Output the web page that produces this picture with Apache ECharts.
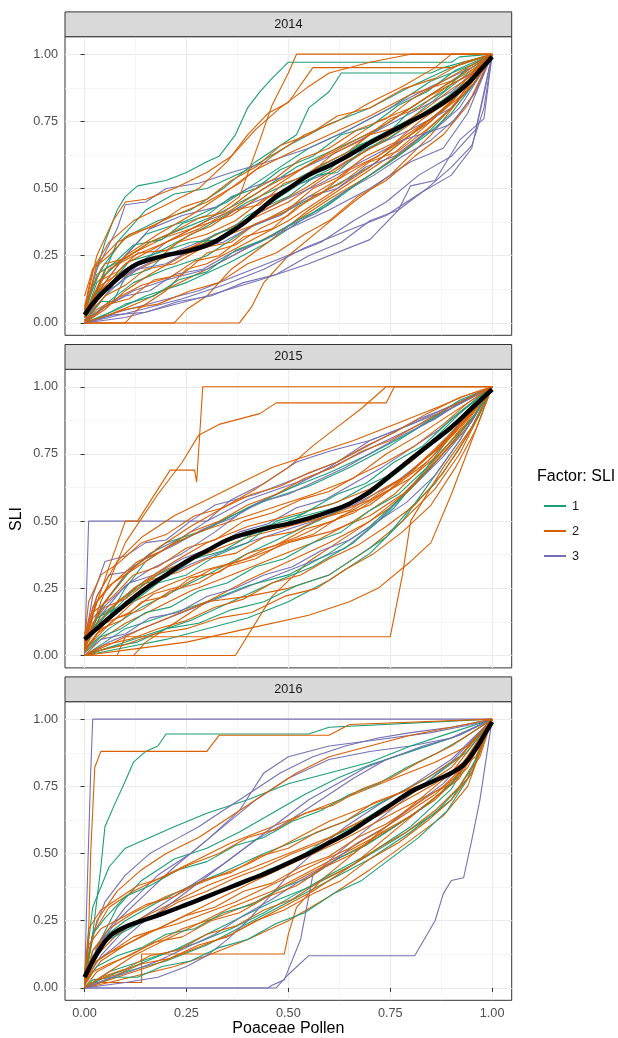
<!DOCTYPE html>
<html>
<head>
<meta charset="utf-8">
<script src="https://cdn.jsdelivr.net/npm/echarts@6/dist/echarts.min.js"></script>
<style>
  html, body { margin: 0; padding: 0; background: #fff; }
  #chart { width: 618px; height: 1038px; }
</style>
</head>
<body>
<div id="chart"></div>
<script>
var chart = echarts.init(document.getElementById('chart'));

// facets, factor levels and ticks
var years = ['2014', '2015', '2016'];
var factors = ['1', '2', '3'];
var factorColors = ['#1B9E77', '#D95F02', '#7570B3'];
var majorTicks = [0, 0.25, 0.5, 0.75, 1];
var minorTicks = [0.125, 0.375, 0.625, 0.875];

// ---- 2014 ----
var teal2014 = [
  [[0,0],[0.08,0.05],[0.15,0.1],[0.25,0.15],[0.35,0.22],[0.45,0.3],[0.55,0.4],[0.65,0.5],[0.75,0.6],[0.85,0.72],[0.95,0.88],[1,1]],
  [[0,0],[0.06,0.08],[0.12,0.15],[0.2,0.2],[0.3,0.25],[0.4,0.35],[0.5,0.42],[0.6,0.5],[0.7,0.58],[0.8,0.7],[0.9,0.82],[1,1]],
  [[0,0],[0.05,0.1],[0.1,0.2],[0.2,0.28],[0.3,0.36],[0.4,0.45],[0.5,0.52],[0.6,0.6],[0.7,0.68],[0.8,0.76],[0.9,0.88],[1,1]],
  [[0,0.02],[0.03,0.15],[0.08,0.22],[0.16,0.3],[0.24,0.35],[0.32,0.4],[0.42,0.48],[0.52,0.58],[0.62,0.65],[0.72,0.72],[0.82,0.82],[0.92,0.92],[1,1]],
  [[0,0.03],[0.05,0.18],[0.1,0.25],[0.15,0.33],[0.25,0.38],[0.35,0.45],[0.45,0.55],[0.55,0.65],[0.65,0.72],[0.75,0.8],[0.85,0.9],[0.95,0.96],[1,1]],
  [[0,0.02],[0.03,0.12],[0.08,0.3],[0.15,0.42],[0.22,0.48],[0.3,0.5],[0.4,0.57],[0.5,0.66],[0.6,0.74],[0.7,0.8],[0.8,0.88],[0.9,0.95],[1,1]],
  [[0,0.05],[0.04,0.2],[0.1,0.32],[0.18,0.38],[0.26,0.42],[0.34,0.5],[0.42,0.6],[0.52,0.7],[0.55,0.8],[0.6,0.86],[0.63,0.93],[0.85,0.93],[0.88,0.95],[1,1]],
  [[0,0.05],[0.02,0.15],[0.05,0.3],[0.08,0.42],[0.1,0.47],[0.13,0.51],[0.2,0.53],[0.25,0.56],[0.3,0.6],[0.33,0.62],[0.37,0.7],[0.4,0.8],[0.43,0.86],[0.46,0.91],[0.5,0.97],[0.9,0.97],[0.92,0.99],[1,1]],
  [[0,0.01],[0.04,0.08],[0.07,0.08],[0.1,0.17],[0.16,0.2],[0.2,0.26],[0.27,0.27],[0.32,0.33],[0.38,0.36],[0.44,0.43],[0.5,0.47],[0.57,0.55],[0.62,0.56],[0.68,0.64],[0.75,0.69],[0.82,0.77],[0.88,0.83],[0.94,0.9],[1,1]],
  [[0,0.03],[0.03,0.18],[0.07,0.22],[0.12,0.29],[0.19,0.31],[0.24,0.37],[0.3,0.4],[0.36,0.47],[0.42,0.5],[0.48,0.57],[0.56,0.62],[0.63,0.7],[0.7,0.73],[0.77,0.81],[0.84,0.86],[0.91,0.94],[1,1]],
  [[0,0],[0.05,0.03],[0.1,0.07],[0.17,0.1],[0.23,0.16],[0.3,0.19],[0.37,0.27],[0.44,0.31],[0.52,0.38],[0.6,0.44],[0.68,0.53],[0.76,0.61],[0.84,0.7],[0.9,0.78],[0.96,0.9],[1,1]],
  [[0,0.02],[0.02,0.1],[0.06,0.14],[0.11,0.23],[0.18,0.26],[0.26,0.3],[0.33,0.31],[0.4,0.4],[0.46,0.45],[0.53,0.52],[0.6,0.57],[0.67,0.66],[0.74,0.7],[0.8,0.79],[0.88,0.86],[0.94,0.95],[1,1]]
];
var orange2014 = [
  [[0,0],[0.22,0],[0.25,0.05],[0.3,0.1],[0.36,0.2],[0.45,0.3],[0.55,0.42],[0.65,0.52],[0.75,0.62],[0.85,0.75],[0.95,0.9],[1,1]],
  [[0,0],[0.38,0],[0.41,0.06],[0.44,0.15],[0.5,0.25],[0.58,0.35],[0.66,0.45],[0.75,0.55],[0.85,0.7],[0.93,0.85],[1,1]],
  [[0,0],[0.06,0.03],[0.14,0.08],[0.22,0.14],[0.3,0.2],[0.4,0.28],[0.5,0.36],[0.6,0.46],[0.7,0.55],[0.8,0.66],[0.9,0.8],[1,1]],
  [[0,0],[0.1,0],[0.13,0.05],[0.2,0.12],[0.25,0.2],[0.3,0.22],[0.4,0.3],[0.5,0.38],[0.6,0.48],[0.7,0.58],[0.8,0.7],[0.9,0.82],[1,1]],
  [[0,0],[0.03,0.08],[0.08,0.16],[0.16,0.22],[0.24,0.27],[0.34,0.32],[0.44,0.38],[0.54,0.46],[0.64,0.55],[0.74,0.64],[0.84,0.74],[0.92,0.84],[1,1]],
  [[0,0],[0.05,0.05],[0.1,0.12],[0.16,0.18],[0.24,0.25],[0.32,0.3],[0.4,0.38],[0.5,0.45],[0.6,0.55],[0.7,0.65],[0.8,0.75],[0.9,0.85],[1,1]],
  [[0,0.02],[0.04,0.14],[0.1,0.2],[0.18,0.24],[0.26,0.28],[0.34,0.34],[0.44,0.42],[0.54,0.5],[0.64,0.6],[0.74,0.68],[0.84,0.78],[0.94,0.9],[1,1]],
  [[0,0],[0.02,0.1],[0.06,0.2],[0.12,0.25],[0.2,0.3],[0.28,0.35],[0.36,0.42],[0.44,0.5],[0.54,0.58],[0.64,0.66],[0.74,0.74],[0.84,0.84],[0.94,0.92],[1,1]],
  [[0,0.02],[0.05,0.2],[0.12,0.26],[0.2,0.32],[0.28,0.36],[0.36,0.4],[0.46,0.5],[0.56,0.6],[0.64,0.67],[0.72,0.75],[0.8,0.8],[0.88,0.88],[0.96,0.95],[1,1]],
  [[0,0.05],[0.05,0.15],[0.1,0.25],[0.18,0.33],[0.26,0.4],[0.34,0.48],[0.42,0.57],[0.5,0.63],[0.6,0.7],[0.7,0.77],[0.8,0.85],[0.9,0.9],[1,1]],
  [[0,0.03],[0.03,0.22],[0.08,0.3],[0.15,0.35],[0.22,0.4],[0.3,0.45],[0.38,0.52],[0.46,0.62],[0.54,0.7],[0.62,0.75],[0.7,0.82],[0.78,0.88],[0.86,0.95],[0.9,1],[1,1]],
  [[0,0.1],[0.02,0.2],[0.06,0.3],[0.12,0.38],[0.2,0.44],[0.28,0.5],[0.35,0.6],[0.4,0.7],[0.45,0.78],[0.5,0.82],[0.56,0.95],[0.9,0.95],[1,1]],
  [[0,0.05],[0.03,0.25],[0.07,0.38],[0.1,0.45],[0.15,0.46],[0.22,0.5],[0.3,0.56],[0.36,0.62],[0.42,0.72],[0.48,0.8],[0.55,0.88],[0.6,0.93],[0.7,0.97],[0.8,1],[1,1]],
  [[0,0.02],[0.04,0.12],[0.1,0.22],[0.2,0.3],[0.3,0.38],[0.38,0.47],[0.43,0.68],[0.46,0.81],[0.5,0.93],[0.52,1],[1,1]],
  [[0,0.03],[0.04,0.16],[0.08,0.19],[0.13,0.26],[0.2,0.27],[0.26,0.33],[0.31,0.36],[0.37,0.42],[0.43,0.44],[0.49,0.52],[0.55,0.55],[0.61,0.63],[0.68,0.68],[0.75,0.76],[0.82,0.8],[0.89,0.88],[0.95,0.93],[1,1]],
  [[0,0],[0.03,0.05],[0.09,0.1],[0.14,0.14],[0.21,0.17],[0.27,0.23],[0.33,0.25],[0.39,0.32],[0.46,0.35],[0.52,0.43],[0.58,0.48],[0.65,0.57],[0.72,0.62],[0.79,0.7],[0.86,0.77],[0.93,0.87],[1,1]],
  [[0,0.06],[0.02,0.2],[0.06,0.25],[0.11,0.33],[0.17,0.36],[0.24,0.43],[0.3,0.46],[0.36,0.53],[0.42,0.58],[0.48,0.66],[0.55,0.7],[0.62,0.77],[0.7,0.8],[0.78,0.87],[0.86,0.91],[0.93,0.97],[1,1]],
  [[0,0.01],[0.05,0.1],[0.1,0.14],[0.15,0.2],[0.22,0.22],[0.29,0.28],[0.36,0.3],[0.42,0.37],[0.49,0.41],[0.56,0.5],[0.62,0.54],[0.69,0.62],[0.76,0.67],[0.83,0.76],[0.9,0.83],[0.96,0.93],[1,1]],
  [[0,0.02],[0.03,0.12],[0.07,0.15],[0.12,0.21],[0.18,0.24],[0.23,0.3],[0.3,0.33],[0.37,0.38],[0.44,0.46],[0.5,0.5],[0.57,0.58],[0.64,0.63],[0.7,0.7],[0.77,0.73],[0.84,0.8],[0.9,0.87],[0.95,0.92],[1,1]],
  [[0,0],[0.06,0.07],[0.11,0.09],[0.17,0.16],[0.24,0.18],[0.3,0.26],[0.37,0.29],[0.43,0.35],[0.5,0.4],[0.56,0.47],[0.63,0.52],[0.7,0.6],[0.77,0.64],[0.84,0.72],[0.9,0.8],[0.96,0.9],[1,1]],
  [[0,0.04],[0.02,0.14],[0.05,0.22],[0.1,0.24],[0.16,0.3],[0.22,0.34],[0.28,0.39],[0.34,0.41],[0.41,0.49],[0.47,0.54],[0.53,0.61],[0.6,0.65],[0.67,0.72],[0.74,0.76],[0.81,0.84],[0.88,0.9],[0.95,0.96],[1,1]],
  [[0,0],[0.04,0.02],[0.1,0.05],[0.18,0.07],[0.26,0.12],[0.33,0.15],[0.4,0.22],[0.47,0.26],[0.54,0.33],[0.6,0.38],[0.67,0.47],[0.74,0.53],[0.81,0.62],[0.88,0.7],[0.94,0.81],[1,1]]
];
var purple2014 = [
  [[0,0],[0.08,0.04],[0.18,0.08],[0.28,0.12],[0.38,0.18],[0.48,0.24],[0.58,0.3],[0.66,0.38],[0.74,0.45],[0.82,0.55],[0.9,0.62],[0.96,0.72],[1,1]],
  [[0,0],[0.06,0.02],[0.14,0.05],[0.24,0.09],[0.34,0.14],[0.44,0.2],[0.54,0.28],[0.64,0.34],[0.74,0.4],[0.82,0.48],[0.9,0.55],[0.95,0.65],[0.98,0.85],[1,1]],
  [[0,0],[0.1,0.02],[0.2,0.06],[0.3,0.1],[0.43,0.16],[0.55,0.22],[0.7,0.31],[0.77,0.42],[0.8,0.51],[0.86,0.53],[0.92,0.68],[0.98,0.76],[1,1]],
  [[0,0],[0.05,0.06],[0.12,0.12],[0.2,0.16],[0.3,0.2],[0.4,0.28],[0.5,0.35],[0.6,0.42],[0.7,0.5],[0.8,0.6],[0.88,0.65],[0.94,0.78],[1,1]],
  [[0,0.02],[0.05,0.1],[0.12,0.2],[0.2,0.3],[0.3,0.38],[0.4,0.44],[0.5,0.5],[0.6,0.56],[0.7,0.65],[0.8,0.72],[0.9,0.8],[0.96,0.9],[1,1]],
  [[0,0.02],[0.04,0.12],[0.1,0.18],[0.18,0.24],[0.28,0.3],[0.38,0.37],[0.48,0.45],[0.58,0.52],[0.68,0.6],[0.78,0.68],[0.86,0.72],[0.92,0.8],[0.97,0.92],[1,1]],
  [[0,0.03],[0.05,0.15],[0.1,0.25],[0.16,0.35],[0.24,0.4],[0.32,0.43],[0.4,0.5],[0.5,0.55],[0.6,0.62],[0.7,0.7],[0.8,0.78],[0.9,0.86],[1,1]],
  [[0,0.05],[0.03,0.2],[0.08,0.35],[0.1,0.44],[0.15,0.45],[0.2,0.5],[0.28,0.52],[0.36,0.56],[0.45,0.6],[0.55,0.65],[0.65,0.72],[0.75,0.8],[0.85,0.88],[0.95,0.95],[1,1]],
  [[0,0.01],[0.05,0.06],[0.1,0.1],[0.16,0.12],[0.22,0.18],[0.29,0.2],[0.36,0.26],[0.43,0.3],[0.5,0.36],[0.57,0.41],[0.64,0.49],[0.71,0.55],[0.78,0.62],[0.85,0.68],[0.91,0.76],[0.96,0.86],[1,1]],
  [[0,0.02],[0.03,0.1],[0.08,0.14],[0.13,0.2],[0.2,0.22],[0.27,0.28],[0.34,0.3],[0.41,0.36],[0.48,0.4],[0.55,0.47],[0.62,0.5],[0.69,0.58],[0.76,0.62],[0.83,0.7],[0.9,0.74],[0.95,0.84],[1,1]],
  [[0,0],[0.07,0.03],[0.15,0.04],[0.23,0.08],[0.31,0.1],[0.39,0.15],[0.47,0.18],[0.55,0.25],[0.63,0.3],[0.7,0.38],[0.77,0.42],[0.84,0.5],[0.9,0.58],[0.95,0.66],[0.98,0.8],[1,1]]
];
var smooth2014 = [[0,0.03],[0.03,0.09],[0.06,0.135],[0.1,0.19],[0.13,0.22],[0.17,0.24],[0.21,0.255],[0.26,0.27],[0.31,0.295],[0.35,0.33],[0.39,0.37],[0.43,0.42],[0.47,0.47],[0.51,0.51],[0.55,0.55],[0.6,0.585],[0.65,0.625],[0.7,0.67],[0.75,0.71],[0.8,0.75],[0.85,0.79],[0.9,0.84],[0.94,0.89],[0.97,0.94],[1,0.99]];

// ---- 2015 ----
var teal2015 = [
  [[0,0],[0.1,0.03],[0.2,0.06],[0.3,0.1],[0.4,0.14],[0.5,0.2],[0.6,0.28],[0.7,0.38],[0.78,0.5],[0.85,0.65],[0.92,0.8],[1,1]],
  [[0,0],[0.08,0.04],[0.16,0.08],[0.26,0.13],[0.36,0.2],[0.46,0.27],[0.56,0.33],[0.66,0.42],[0.76,0.55],[0.84,0.7],[0.92,0.86],[1,1]],
  [[0,0],[0.05,0.05],[0.1,0.1],[0.2,0.15],[0.3,0.2],[0.4,0.26],[0.5,0.3],[0.6,0.38],[0.7,0.48],[0.8,0.62],[0.88,0.75],[0.95,0.88],[1,1]],
  [[0,0.02],[0.06,0.1],[0.14,0.18],[0.22,0.24],[0.3,0.3],[0.4,0.38],[0.5,0.45],[0.6,0.52],[0.7,0.6],[0.8,0.72],[0.9,0.85],[1,1]],
  [[0,0.03],[0.04,0.15],[0.1,0.22],[0.18,0.3],[0.26,0.36],[0.34,0.42],[0.44,0.48],[0.54,0.52],[0.64,0.56],[0.74,0.65],[0.84,0.78],[0.92,0.9],[1,1]],
  [[0,0.02],[0.05,0.12],[0.1,0.25],[0.15,0.35],[0.22,0.42],[0.3,0.47],[0.4,0.55],[0.5,0.62],[0.6,0.68],[0.7,0.75],[0.8,0.83],[0.9,0.92],[1,1]],
  [[0,0.04],[0.05,0.2],[0.12,0.33],[0.2,0.42],[0.28,0.46],[0.36,0.52],[0.45,0.58],[0.55,0.63],[0.65,0.7],[0.75,0.78],[0.85,0.88],[0.92,0.95],[1,1]],
  [[0,0.01],[0.04,0.07],[0.09,0.1],[0.15,0.16],[0.21,0.18],[0.28,0.24],[0.35,0.27],[0.42,0.33],[0.49,0.36],[0.56,0.42],[0.63,0.46],[0.7,0.54],[0.77,0.6],[0.84,0.7],[0.9,0.8],[0.96,0.9],[1,1]],
  [[0,0.03],[0.03,0.14],[0.08,0.18],[0.13,0.26],[0.2,0.29],[0.27,0.36],[0.34,0.39],[0.41,0.45],[0.48,0.48],[0.55,0.54],[0.62,0.57],[0.69,0.63],[0.76,0.68],[0.83,0.76],[0.9,0.84],[0.95,0.93],[1,1]],
  [[0,0],[0.06,0.03],[0.13,0.05],[0.2,0.1],[0.28,0.12],[0.36,0.17],[0.44,0.2],[0.52,0.26],[0.6,0.3],[0.67,0.37],[0.74,0.44],[0.8,0.55],[0.86,0.64],[0.92,0.77],[0.97,0.9],[1,1]],
  [[0,0.02],[0.02,0.1],[0.06,0.16],[0.12,0.2],[0.18,0.27],[0.25,0.3],[0.32,0.37],[0.4,0.42],[0.47,0.5],[0.54,0.53],[0.62,0.6],[0.69,0.64],[0.76,0.72],[0.83,0.78],[0.9,0.88],[1,1]]
];
var orange2015 = [
  [[0,0],[0.37,0],[0.46,0.22],[0.55,0.35],[0.65,0.45],[0.75,0.55],[0.85,0.7],[0.95,0.88],[1,1]],
  [[0,0],[0.08,0],[0.1,0.07],[0.75,0.07],[0.78,0.3],[0.8,0.5],[0.88,0.7],[0.95,0.85],[1,1]],
  [[0,0],[0.1,0.02],[0.25,0.05],[0.4,0.1],[0.55,0.15],[0.65,0.2],[0.72,0.25],[0.8,0.35],[0.85,0.42],[0.9,0.6],[0.95,0.8],[1,1]],
  [[0,0],[0.12,0],[0.15,0.05],[0.22,0.12],[0.3,0.2],[0.4,0.28],[0.5,0.35],[0.6,0.42],[0.7,0.5],[0.8,0.62],[0.9,0.8],[1,1]],
  [[0,0],[0.06,0.04],[0.14,0.1],[0.22,0.15],[0.3,0.2],[0.4,0.22],[0.5,0.25],[0.6,0.3],[0.7,0.4],[0.78,0.5],[0.86,0.62],[0.92,0.75],[0.97,0.9],[1,1]],
  [[0,0],[0.04,0.06],[0.1,0.12],[0.18,0.18],[0.26,0.24],[0.36,0.3],[0.46,0.36],[0.56,0.42],[0.66,0.5],[0.76,0.6],[0.86,0.75],[0.94,0.9],[1,1]],
  [[0,0.02],[0.05,0.1],[0.12,0.2],[0.2,0.26],[0.3,0.32],[0.4,0.36],[0.5,0.42],[0.6,0.46],[0.7,0.52],[0.78,0.6],[0.86,0.72],[0.94,0.85],[1,1]],
  [[0,0.03],[0.05,0.15],[0.12,0.25],[0.2,0.32],[0.3,0.38],[0.4,0.44],[0.5,0.48],[0.6,0.52],[0.7,0.58],[0.8,0.68],[0.9,0.82],[0.96,0.92],[1,1]],
  [[0,0.05],[0.03,0.12],[0.08,0.2],[0.15,0.28],[0.22,0.35],[0.3,0.42],[0.4,0.48],[0.5,0.52],[0.6,0.56],[0.7,0.62],[0.8,0.72],[0.9,0.85],[1,1]],
  [[0,0.05],[0.02,0.18],[0.06,0.26],[0.12,0.32],[0.2,0.4],[0.28,0.46],[0.36,0.5],[0.46,0.55],[0.56,0.6],[0.66,0.66],[0.74,0.75],[0.82,0.82],[0.9,0.9],[1,1]],
  [[0,0.08],[0.03,0.22],[0.08,0.35],[0.14,0.44],[0.22,0.52],[0.3,0.58],[0.38,0.64],[0.46,0.7],[0.56,0.75],[0.66,0.8],[0.76,0.86],[0.86,0.92],[0.94,0.97],[1,1]],
  [[0,0.04],[0.04,0.18],[0.1,0.3],[0.18,0.4],[0.26,0.48],[0.34,0.55],[0.42,0.62],[0.5,0.7],[0.56,0.78],[0.62,0.85],[0.68,0.92],[0.74,1],[1,1]],
  [[0,0.02],[0.04,0.2],[0.1,0.42],[0.18,0.6],[0.24,0.72],[0.28,0.82],[0.33,0.86],[0.43,0.9],[0.47,0.94],[0.74,0.94],[0.76,1],[1,1]],
  [[0,0.03],[0.02,0.15],[0.06,0.33],[0.1,0.5],[0.13,0.5],[0.21,0.69],[0.27,0.69],[0.275,0.645],[0.29,1],[1,1]],
  [[0,0.02],[0.04,0.1],[0.09,0.13],[0.14,0.2],[0.2,0.22],[0.26,0.29],[0.33,0.31],[0.4,0.38],[0.47,0.41],[0.54,0.47],[0.61,0.5],[0.68,0.56],[0.75,0.62],[0.82,0.71],[0.89,0.8],[0.95,0.9],[1,1]],
  [[0,0.04],[0.02,0.16],[0.07,0.22],[0.12,0.3],[0.18,0.33],[0.25,0.4],[0.32,0.43],[0.39,0.5],[0.46,0.53],[0.53,0.58],[0.6,0.61],[0.67,0.67],[0.74,0.72],[0.81,0.78],[0.88,0.86],[0.94,0.94],[1,1]],
  [[0,0],[0.05,0.04],[0.11,0.06],[0.18,0.1],[0.25,0.13],[0.32,0.18],[0.39,0.21],[0.46,0.27],[0.53,0.3],[0.6,0.36],[0.67,0.41],[0.74,0.48],[0.81,0.56],[0.88,0.68],[0.94,0.82],[1,1]],
  [[0,0.01],[0.03,0.08],[0.08,0.14],[0.14,0.17],[0.21,0.24],[0.28,0.27],[0.35,0.33],[0.42,0.36],[0.49,0.42],[0.56,0.45],[0.63,0.52],[0.7,0.56],[0.77,0.64],[0.84,0.72],[0.91,0.83],[0.96,0.93],[1,1]],
  [[0,0.05],[0.03,0.2],[0.07,0.27],[0.13,0.35],[0.19,0.39],[0.26,0.46],[0.33,0.5],[0.4,0.56],[0.47,0.6],[0.54,0.66],[0.61,0.7],[0.68,0.76],[0.75,0.8],[0.82,0.86],[0.89,0.92],[1,1]],
  [[0,0],[0.04,0.02],[0.1,0.04],[0.17,0.08],[0.25,0.1],[0.33,0.14],[0.41,0.16],[0.49,0.22],[0.57,0.25],[0.64,0.32],[0.71,0.38],[0.78,0.46],[0.85,0.56],[0.91,0.7],[0.96,0.84],[1,1]],
  [[0,0.03],[0.02,0.12],[0.05,0.18],[0.1,0.21],[0.16,0.28],[0.23,0.31],[0.3,0.36],[0.37,0.38],[0.44,0.44],[0.51,0.46],[0.58,0.51],[0.65,0.54],[0.72,0.61],[0.79,0.67],[0.86,0.77],[0.92,0.86],[1,1]],
  [[0,0.02],[0.05,0.12],[0.11,0.16],[0.17,0.23],[0.24,0.26],[0.31,0.32],[0.38,0.35],[0.45,0.4],[0.52,0.44],[0.59,0.49],[0.66,0.53],[0.73,0.6],[0.8,0.66],[0.87,0.75],[0.93,0.85],[1,1]],
  [[0,0.06],[0.01,0.2],[0.04,0.3],[0.08,0.34],[0.14,0.42],[0.2,0.45],[0.27,0.52],[0.34,0.55],[0.41,0.6],[0.48,0.63],[0.55,0.68],[0.62,0.72],[0.69,0.78],[0.76,0.83],[0.84,0.9],[0.92,0.96],[1,1]]
];
var purple2015 = [
  [[0,0],[0.06,0.05],[0.14,0.1],[0.24,0.16],[0.34,0.22],[0.44,0.28],[0.54,0.34],[0.64,0.4],[0.72,0.5],[0.8,0.62],[0.88,0.74],[0.95,0.87],[1,1]],
  [[0,0.02],[0.05,0.12],[0.1,0.2],[0.18,0.28],[0.26,0.34],[0.36,0.4],[0.46,0.45],[0.56,0.5],[0.66,0.56],[0.76,0.64],[0.86,0.76],[0.94,0.9],[1,1]],
  [[0,0.03],[0.04,0.15],[0.1,0.26],[0.16,0.32],[0.24,0.38],[0.32,0.46],[0.4,0.55],[0.5,0.62],[0.6,0.7],[0.7,0.8],[0.8,0.86],[0.9,0.93],[1,1]],
  [[0,0.02],[0.04,0.18],[0.1,0.3],[0.16,0.38],[0.24,0.44],[0.3,0.5],[0.36,0.58],[0.44,0.64],[0.52,0.72],[0.6,0.76],[0.7,0.8],[0.8,0.86],[0.9,0.92],[1,1]],
  [[0,0.05],[0.02,0.22],[0.05,0.35],[0.1,0.37],[0.15,0.42],[0.2,0.43],[0.26,0.5],[0.32,0.56],[0.42,0.6],[0.52,0.66],[0.62,0.72],[0.72,0.8],[0.82,0.88],[0.92,0.94],[1,1]],
  [[0,0],[0.01,0.5],[0.3,0.5],[0.4,0.58],[0.55,0.66],[0.7,0.77],[0.85,0.88],[1,1]],
  [[0,0.01],[0.04,0.06],[0.1,0.08],[0.16,0.14],[0.23,0.16],[0.3,0.22],[0.37,0.25],[0.44,0.3],[0.51,0.33],[0.58,0.39],[0.65,0.43],[0.72,0.5],[0.79,0.57],[0.86,0.67],[0.92,0.8],[1,1]],
  [[0,0.04],[0.02,0.14],[0.06,0.2],[0.11,0.27],[0.17,0.3],[0.24,0.36],[0.31,0.4],[0.38,0.46],[0.45,0.49],[0.52,0.55],[0.59,0.58],[0.66,0.64],[0.73,0.7],[0.8,0.77],[0.87,0.84],[0.94,0.93],[1,1]],
  [[0,0.02],[0.03,0.22],[0.06,0.3],[0.1,0.31],[0.15,0.36],[0.22,0.41],[0.29,0.47],[0.36,0.51],[0.43,0.57],[0.5,0.6],[0.57,0.65],[0.64,0.7],[0.71,0.76],[0.78,0.82],[0.86,0.88],[0.93,0.95],[1,1]]
];
var smooth2015 = [[0,0.06],[0.03,0.1],[0.06,0.14],[0.1,0.19],[0.15,0.25],[0.2,0.3],[0.25,0.35],[0.3,0.39],[0.35,0.43],[0.4,0.455],[0.45,0.475],[0.5,0.49],[0.55,0.51],[0.6,0.535],[0.65,0.565],[0.7,0.61],[0.75,0.67],[0.8,0.73],[0.85,0.79],[0.9,0.85],[0.95,0.92],[1,0.99]];

// ---- 2016 ----
var teal2016 = [
  [[0,0],[0.04,0.02],[0.1,0.06],[0.2,0.1],[0.3,0.16],[0.4,0.24],[0.5,0.32],[0.6,0.4],[0.7,0.48],[0.8,0.58],[0.9,0.7],[0.96,0.85],[1,1]],
  [[0,0],[0.06,0.06],[0.14,0.1],[0.22,0.14],[0.3,0.2],[0.38,0.26],[0.46,0.32],[0.56,0.38],[0.66,0.46],[0.76,0.55],[0.86,0.65],[0.94,0.78],[1,1]],
  [[0,0],[0.05,0.04],[0.12,0.08],[0.2,0.13],[0.28,0.17],[0.36,0.22],[0.44,0.28],[0.52,0.35],[0.6,0.42],[0.7,0.5],[0.8,0.6],[0.9,0.74],[1,1]],
  [[0,0.03],[0.04,0.18],[0.1,0.25],[0.18,0.32],[0.26,0.38],[0.34,0.43],[0.44,0.5],[0.54,0.56],[0.64,0.62],[0.74,0.7],[0.84,0.78],[0.92,0.86],[1,1]],
  [[0,0.02],[0.03,0.15],[0.08,0.3],[0.14,0.4],[0.22,0.48],[0.3,0.52],[0.38,0.58],[0.46,0.65],[0.54,0.72],[0.62,0.78],[0.7,0.83],[0.8,0.88],[0.9,0.93],[1,1]],
  [[0,0.05],[0.02,0.3],[0.06,0.45],[0.1,0.52],[0.16,0.56],[0.22,0.6],[0.3,0.65],[0.4,0.7],[0.5,0.76],[0.6,0.8],[0.7,0.84],[0.8,0.9],[0.9,0.95],[1,1]],
  [[0,0],[0.01,0.1],[0.02,0.2],[0.04,0.45],[0.05,0.6],[0.07,0.67],[0.1,0.77],[0.12,0.84],[0.15,0.88],[0.18,0.9],[0.2,0.945],[0.55,0.945],[0.6,0.97],[1,1]],
  [[0,0.01],[0.03,0.08],[0.08,0.12],[0.14,0.15],[0.2,0.2],[0.27,0.22],[0.34,0.28],[0.41,0.31],[0.48,0.37],[0.55,0.41],[0.62,0.48],[0.69,0.53],[0.76,0.6],[0.83,0.67],[0.9,0.76],[0.96,0.88],[1,1]],
  [[0,0.02],[0.02,0.12],[0.06,0.18],[0.11,0.22],[0.17,0.27],[0.24,0.3],[0.31,0.35],[0.38,0.38],[0.45,0.44],[0.52,0.48],[0.59,0.55],[0.66,0.6],[0.73,0.67],[0.8,0.72],[0.87,0.8],[0.94,0.88],[1,1]],
  [[0,0],[0.02,0.03],[0.07,0.04],[0.13,0.04],[0.19,0.08],[0.26,0.1],[0.33,0.15],[0.4,0.18],[0.47,0.24],[0.54,0.28],[0.61,0.35],[0.68,0.4],[0.75,0.48],[0.82,0.56],[0.89,0.66],[0.95,0.8],[1,1]],
  [[0,0.04],[0.02,0.2],[0.05,0.26],[0.1,0.34],[0.16,0.38],[0.23,0.44],[0.3,0.47],[0.37,0.53],[0.44,0.56],[0.51,0.62],[0.58,0.66],[0.65,0.72],[0.72,0.76],[0.79,0.82],[0.86,0.87],[0.93,0.93],[1,1]]
];
var orange2016 = [
  [[0,0],[0.06,0.02],[0.14,0.05],[0.22,0.08],[0.3,0.12],[0.4,0.18],[0.5,0.25],[0.6,0.34],[0.7,0.44],[0.8,0.55],[0.88,0.64],[0.94,0.75],[1,1]],
  [[0,0],[0.02,0.02],[0.14,0.02],[0.14,0.126],[0.49,0.126],[0.5,0.2],[0.52,0.3],[0.58,0.4],[0.66,0.5],[0.74,0.6],[0.82,0.7],[0.9,0.8],[1,1]],
  [[0,0],[0.08,0.04],[0.16,0.08],[0.26,0.14],[0.36,0.2],[0.46,0.28],[0.56,0.36],[0.66,0.46],[0.74,0.56],[0.82,0.66],[0.9,0.76],[1,1]],
  [[0,0],[0.03,0.06],[0.08,0.1],[0.16,0.16],[0.24,0.22],[0.32,0.26],[0.42,0.32],[0.52,0.4],[0.62,0.48],[0.72,0.56],[0.82,0.66],[0.92,0.78],[1,1]],
  [[0,0],[0.05,0.05],[0.12,0.12],[0.2,0.18],[0.28,0.24],[0.36,0.3],[0.46,0.36],[0.56,0.44],[0.66,0.52],[0.76,0.6],[0.86,0.7],[0.94,0.82],[1,1]],
  [[0,0.02],[0.04,0.1],[0.1,0.16],[0.18,0.22],[0.26,0.28],[0.34,0.34],[0.42,0.4],[0.52,0.47],[0.62,0.54],[0.72,0.62],[0.82,0.7],[0.9,0.76],[0.96,0.88],[1,1]],
  [[0,0.02],[0.03,0.12],[0.08,0.2],[0.14,0.26],[0.22,0.32],[0.3,0.38],[0.4,0.44],[0.5,0.5],[0.6,0.56],[0.7,0.64],[0.8,0.72],[0.9,0.82],[1,1]],
  [[0,0.02],[0.02,0.14],[0.06,0.22],[0.12,0.28],[0.2,0.34],[0.3,0.4],[0.4,0.46],[0.5,0.54],[0.6,0.62],[0.7,0.68],[0.8,0.74],[0.9,0.8],[0.96,0.86],[1,1]],
  [[0,0.05],[0.02,0.2],[0.06,0.3],[0.12,0.36],[0.2,0.42],[0.28,0.48],[0.36,0.54],[0.46,0.6],[0.56,0.66],[0.66,0.72],[0.76,0.78],[0.86,0.84],[0.94,0.9],[1,1]],
  [[0,0.04],[0.03,0.25],[0.08,0.36],[0.14,0.44],[0.2,0.5],[0.28,0.56],[0.36,0.64],[0.44,0.72],[0.52,0.8],[0.6,0.86],[0.7,0.9],[0.8,0.94],[0.9,0.97],[1,1]],
  [[0,0],[0.01,0.2],[0.015,0.5],[0.025,0.82],[0.04,0.88],[0.3,0.88],[0.33,0.94],[0.6,0.94],[0.65,0.98],[1,1]],
  [[0,0.02],[0.03,0.1],[0.07,0.14],[0.12,0.19],[0.18,0.22],[0.25,0.27],[0.32,0.3],[0.39,0.36],[0.46,0.39],[0.53,0.45],[0.6,0.49],[0.67,0.56],[0.74,0.61],[0.81,0.68],[0.88,0.75],[0.94,0.84],[1,1]],
  [[0,0.01],[0.02,0.06],[0.06,0.09],[0.11,0.12],[0.17,0.17],[0.24,0.19],[0.31,0.25],[0.38,0.28],[0.45,0.34],[0.52,0.38],[0.59,0.45],[0.66,0.5],[0.73,0.58],[0.8,0.64],[0.87,0.72],[0.93,0.82],[1,1]],
  [[0,0.03],[0.01,0.16],[0.04,0.22],[0.09,0.26],[0.15,0.31],[0.22,0.34],[0.29,0.4],[0.36,0.43],[0.43,0.49],[0.5,0.52],[0.57,0.58],[0.64,0.62],[0.71,0.69],[0.78,0.73],[0.85,0.79],[0.92,0.86],[1,1]],
  [[0,0],[0.03,0.03],[0.08,0.05],[0.14,0.09],[0.21,0.11],[0.28,0.16],[0.35,0.19],[0.42,0.25],[0.49,0.29],[0.56,0.35],[0.63,0.4],[0.7,0.48],[0.77,0.54],[0.84,0.62],[0.9,0.7],[0.95,0.8],[1,1]],
  [[0,0.05],[0.01,0.22],[0.04,0.29],[0.08,0.33],[0.13,0.38],[0.19,0.41],[0.26,0.46],[0.33,0.5],[0.4,0.56],[0.47,0.59],[0.54,0.65],[0.61,0.68],[0.68,0.74],[0.75,0.78],[0.82,0.84],[0.9,0.9],[1,1]],
  [[0,0.01],[0.02,0.09],[0.06,0.13],[0.1,0.16],[0.16,0.21],[0.23,0.24],[0.3,0.28],[0.37,0.32],[0.44,0.37],[0.51,0.42],[0.58,0.47],[0.65,0.52],[0.72,0.58],[0.79,0.65],[0.86,0.72],[0.92,0.8],[0.97,0.9],[1,1]],
  [[0,0.02],[0.02,0.14],[0.05,0.18],[0.1,0.23],[0.16,0.26],[0.23,0.32],[0.3,0.36],[0.37,0.41],[0.44,0.45],[0.51,0.5],[0.58,0.54],[0.65,0.6],[0.72,0.64],[0.79,0.7],[0.86,0.76],[0.93,0.84],[1,1]],
  [[0,0],[0.04,0.04],[0.1,0.07],[0.16,0.12],[0.23,0.14],[0.3,0.2],[0.37,0.23],[0.44,0.29],[0.51,0.33],[0.58,0.4],[0.65,0.45],[0.72,0.52],[0.79,0.58],[0.86,0.66],[0.92,0.75],[0.97,0.86],[1,1]]
];
var purple2016 = [
  [[0,0],[0.06,0],[0.3,0],[0.47,0],[0.5,0.05],[0.55,0.12],[0.81,0.12],[0.86,0.25],[0.88,0.35],[0.9,0.4],[0.93,0.41],[0.95,0.55],[0.97,0.7],[1,1]],
  [[0,0],[0.03,0],[0.45,0],[0.46,0.01],[0.49,0.03],[0.53,0.18],[0.56,0.42],[0.62,0.5],[0.7,0.6],[0.8,0.72],[0.9,0.84],[1,1]],
  [[0,0],[0.1,0.02],[0.18,0.04],[0.25,0.08],[0.3,0.12],[0.35,0.18],[0.4,0.25],[0.46,0.35],[0.5,0.42],[0.56,0.5],[0.64,0.6],[0.72,0.68],[0.8,0.75],[0.9,0.85],[1,1]],
  [[0,0.02],[0.04,0.12],[0.1,0.22],[0.18,0.3],[0.26,0.38],[0.34,0.46],[0.42,0.55],[0.5,0.62],[0.58,0.7],[0.66,0.78],[0.74,0.85],[0.84,0.9],[0.92,0.94],[1,1]],
  [[0,0.03],[0.05,0.2],[0.1,0.3],[0.18,0.42],[0.26,0.5],[0.34,0.6],[0.42,0.7],[0.5,0.78],[0.6,0.85],[0.7,0.88],[0.8,0.9],[0.9,0.93],[1,1]],
  [[0,0.02],[0.03,0.15],[0.08,0.25],[0.15,0.35],[0.22,0.45],[0.3,0.55],[0.38,0.66],[0.44,0.8],[0.5,0.86],[0.6,0.9],[0.7,0.92],[0.85,0.95],[0.95,0.98],[1,1]],
  [[0,0.05],[0.02,0.2],[0.05,0.32],[0.1,0.42],[0.16,0.5],[0.22,0.55],[0.28,0.6],[0.34,0.66],[0.4,0.72],[0.48,0.8],[0.56,0.86],[0.64,0.9],[0.72,0.93],[0.8,0.95],[0.9,0.97],[1,1]],
  [[0,0],[0.005,0.3],[0.015,0.8],[0.02,1],[1,1]],
  [[0,0.02],[0.03,0.1],[0.08,0.16],[0.14,0.24],[0.2,0.3],[0.27,0.38],[0.34,0.46],[0.41,0.54],[0.48,0.62],[0.55,0.7],[0.62,0.76],[0.69,0.82],[0.76,0.86],[0.83,0.9],[0.9,0.93],[1,1]],
  [[0,0],[0.05,0.03],[0.11,0.06],[0.18,0.1],[0.25,0.15],[0.32,0.2],[0.39,0.27],[0.46,0.33],[0.53,0.4],[0.6,0.46],[0.67,0.54],[0.74,0.6],[0.81,0.68],[0.88,0.76],[0.94,0.86],[1,1]]
];
var smooth2016 = [[0,0.04],[0.02,0.1],[0.04,0.15],[0.06,0.19],[0.09,0.22],[0.13,0.245],[0.18,0.27],[0.25,0.31],[0.3,0.34],[0.35,0.37],[0.4,0.4],[0.45,0.43],[0.5,0.465],[0.55,0.5],[0.6,0.54],[0.65,0.58],[0.7,0.63],[0.75,0.68],[0.8,0.73],[0.85,0.765],[0.9,0.8],[0.93,0.83],[0.96,0.89],[0.98,0.94],[1,0.99]];

var panelCurves = [
  [teal2014, orange2014, purple2014],
  [teal2015, orange2015, purple2015],
  [teal2016, orange2016, purple2016]
];
var panelSmooth = [smooth2014, smooth2015, smooth2016];

// layout (pixels)
var FONT = '"Liberation Sans", Arial, Helvetica, sans-serif';
var gridLeft = 65, gridWidth = 446.7, gridHeight = 298.6;
var gridTops = [36.7, 369.3, 701.7];
var stripH = 24.8;
var xMin = -0.048, xMax = 1.048, yMin = -0.046, yMax = 1.065;

var grids = [], xAxes = [], yAxes = [], series = [], graphics = [];

function fmt(v) { return v.toFixed(2); }

for (var i = 0; i < 3; i++) {
  var bottom = i === 2;
  grids.push({
    left: gridLeft, top: gridTops[i], width: gridWidth, height: gridHeight,
    show: true, borderColor: '#333333', borderWidth: 1,
    backgroundColor: 'transparent', outerBoundsMode: 'none'
  });
  // major x
  xAxes.push({
    type: 'value', gridIndex: i, min: xMin, max: xMax,
    axisLine: { show: false },
    axisTick: { show: bottom, length: 4, customValues: majorTicks, lineStyle: { color: '#333333', width: 1 } },
    axisLabel: { show: bottom, customValues: majorTicks, formatter: fmt, margin: 7,
      color: '#4D4D4D', fontSize: 12.7, fontFamily: FONT },
    splitLine: { show: true, lineStyle: { color: '#EBEBEB', width: 1.2 } }
  });
  // minor x grid
  xAxes.push({
    type: 'value', gridIndex: i, min: xMin, max: xMax, position: 'bottom',
    axisLine: { show: false },
    axisTick: { show: false, customValues: minorTicks },
    axisLabel: { show: false },
    splitLine: { show: true, lineStyle: { color: '#F2F2F2', width: 0.7 } }
  });
  yAxes.push({
    type: 'value', gridIndex: i, min: yMin, max: yMax,
    axisLine: { show: false },
    axisTick: { show: true, length: 4, customValues: majorTicks, lineStyle: { color: '#333333', width: 1 } },
    axisLabel: { show: true, customValues: majorTicks, formatter: fmt, margin: 7,
      color: '#4D4D4D', fontSize: 12.7, fontFamily: FONT },
    splitLine: { show: true, lineStyle: { color: '#EBEBEB', width: 1.2 } }
  });
  yAxes.push({
    type: 'value', gridIndex: i, min: yMin, max: yMax, position: 'left',
    axisLine: { show: false },
    axisTick: { show: false, customValues: minorTicks },
    axisLabel: { show: false },
    splitLine: { show: true, lineStyle: { color: '#F2F2F2', width: 0.7 } }
  });

  // colored curves, interleaved by factor
  var groups = panelCurves[i];
  var n = Math.max(groups[0].length, groups[1].length, groups[2].length);
  for (var k = 0; k < n; k++) {
    for (var f = 0; f < 3; f++) {
      if (!groups[f][k]) continue;
      series.push({
        type: 'line', name: factors[f],
        xAxisIndex: 2 * i, yAxisIndex: 2 * i,
        data: groups[f][k],
        symbol: 'none', silent: true, z: 2,
        lineStyle: { color: factorColors[f], width: 1.1 },
        itemStyle: { color: factorColors[f] }
      });
    }
  }
  // smoothed trend
  series.push({
    type: 'line', name: 'trend',
    xAxisIndex: 2 * i, yAxisIndex: 2 * i,
    data: panelSmooth[i], smooth: 0.4,
    symbol: 'none', silent: true, z: 5,
    lineStyle: { color: '#000000', width: 4.5 }
  });

  // strip header
  graphics.push({
    type: 'rect', z: 10,
    shape: { x: gridLeft, y: gridTops[i] - stripH, width: gridWidth, height: stripH },
    style: { fill: '#D9D9D9', stroke: '#333333', lineWidth: 1 }
  });
  graphics.push({
    type: 'text', z: 11,
    x: gridLeft + gridWidth / 2, y: gridTops[i] - stripH / 2,
    style: { text: years[i], fill: '#1A1A1A', font: '12.7px ' + FONT,
      textAlign: 'center', textVerticalAlign: 'middle' }
  });
}

// axis titles and legend title
graphics.push({
  type: 'text', x: gridLeft + gridWidth / 2, y: 1029,
  style: { text: 'Poaceae Pollen', fill: '#000000', font: '16px ' + FONT,
    textAlign: 'center', textVerticalAlign: 'middle' }
});
graphics.push({
  type: 'text', x: 17, y: 519, rotation: Math.PI / 2,
  style: { text: 'SLI', fill: '#000000', font: '16px ' + FONT,
    textAlign: 'center', textVerticalAlign: 'middle' }
});
graphics.push({
  type: 'text', x: 537, y: 477,
  style: { text: 'Factor: SLI', fill: '#000000', font: '16px ' + FONT,
    textAlign: 'left', textVerticalAlign: 'middle' }
});

var option = {
  animation: false,
  backgroundColor: '#ffffff',
  grid: grids,
  xAxis: xAxes,
  yAxis: yAxes,
  legend: {
    data: factors, orient: 'vertical', left: 539, top: 494,
    icon: 'rect', itemWidth: 22, itemHeight: 2, itemGap: 11,
    selectedMode: false,
    textStyle: { fontSize: 12.7, color: '#1A1A1A', fontFamily: FONT, lineHeight: 14, padding: [0, 0, 0, 1] }
  },
  graphic: graphics,
  series: series
};

chart.setOption(option);
</script>
</body>
</html>
